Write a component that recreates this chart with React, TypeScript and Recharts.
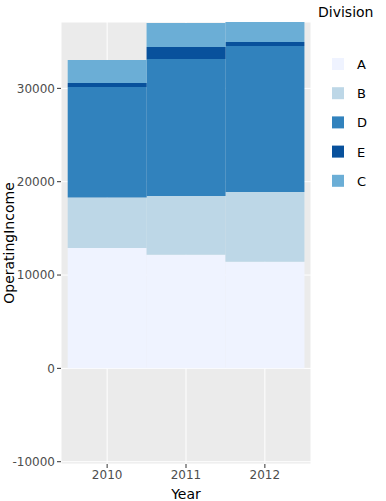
import React from "react";
import { BarChart, Bar, XAxis, YAxis, CartesianGrid, Legend } from "recharts";

const years = ["2010", "2011", "2012"];
const divisionA = [12900, 12175, 11425];
const divisionB = [5400, 6290, 7475];
const divisionD = [11850, 14685, 15650];
const divisionE = [430, 1290, 430];
const divisionC = [2470, 2560, 2220];

const divisions = ["A", "B", "D", "E", "C"];
const divisionColors: Record<string, string> = {
  A: "#EFF3FF",
  B: "#BDD7E7",
  D: "#3182BD",
  E: "#08519C",
  C: "#6BAED6",
};
const seriesValues: Record<string, number[]> = {
  A: divisionA,
  B: divisionB,
  D: divisionD,
  E: divisionE,
  C: divisionC,
};
const yTicks = [-10000, 0, 10000, 20000, 30000];

const data = years.map((y, i) => {
  const row: Record<string, string | number> = { Year: y };
  divisions.forEach((d) => {
    row[d] = seriesValues[d][i];
  });
  return row;
});

const FONT = "'DejaVu Sans', Verdana, sans-serif";

const LegendContent = () => (
  <svg width={75} height={200} style={{ display: "block" }}>
    <text x={7} y={17} fontSize={14} fill="#000" fontFamily={FONT}>
      Division
    </text>
    {divisions.map((d, i) => {
      const cy = 64 + i * 29.2;
      return (
        <g key={d}>
          <rect x={21} y={cy - 6} width={12} height={12} fill={divisionColors[d]} />
          <text x={46} y={cy + 5} fontSize={13} fill="#000" fontFamily={FONT}>
            {d}
          </text>
        </g>
      );
    })}
  </svg>
);

export default function App() {
  return (
    <div style={{ position: "absolute", left: 0, top: 0, width: 386, height: 501, background: "#fff" }}>
      <BarChart
        width={386}
        height={501}
        data={data}
        margin={{ top: 22, right: 0, bottom: 0, left: 0 }}
        barCategoryGap={0}
        barGap={0}
      >
        <CartesianGrid fill="#EBEBEB" stroke="#FFFFFF" strokeWidth={1} />
        <XAxis
          dataKey="Year"
          height={37}
          padding={{ left: 6.7, right: 6.7 }}
          axisLine={false}
          tickLine={{ stroke: "#333333" }}
          tickSize={4}
          tickMargin={2}
          tick={{ fill: "#4D4D4D", fontSize: 12, fontFamily: FONT }}
          label={{ value: "Year", position: "insideBottom", offset: 0, dy: -2, fill: "#000", fontSize: 14, fontFamily: FONT } as any}
        />
        <YAxis
          width={61}
          type="number"
          domain={[-10246, 37110]}
          allowDataOverflow
          ticks={yTicks}
          interval={0}
          axisLine={false}
          tickLine={{ stroke: "#333333" }}
          tickSize={4}
          tickMargin={2}
          tick={{ fill: "#4D4D4D", fontSize: 12, fontFamily: FONT }}
          label={{ value: "OperatingIncome", angle: -90, position: "insideLeft", offset: 0, dx: 9, fill: "#000", fontSize: 14, fontFamily: FONT, style: { textAnchor: "middle" } } as any}
        />
        <Legend
          layout="vertical"
          align="right"
          verticalAlign="top"
          content={<LegendContent />}
          wrapperStyle={{ position: "absolute", left: 311, top: 0, width: 75 }}
        />
        {divisions.map((d) => (
          <Bar
            key={d}
            dataKey={d}
            stackId="s"
            fill={divisionColors[d]}
            isAnimationActive={false}
          />
        ))}
      </BarChart>
    </div>
  );
}
